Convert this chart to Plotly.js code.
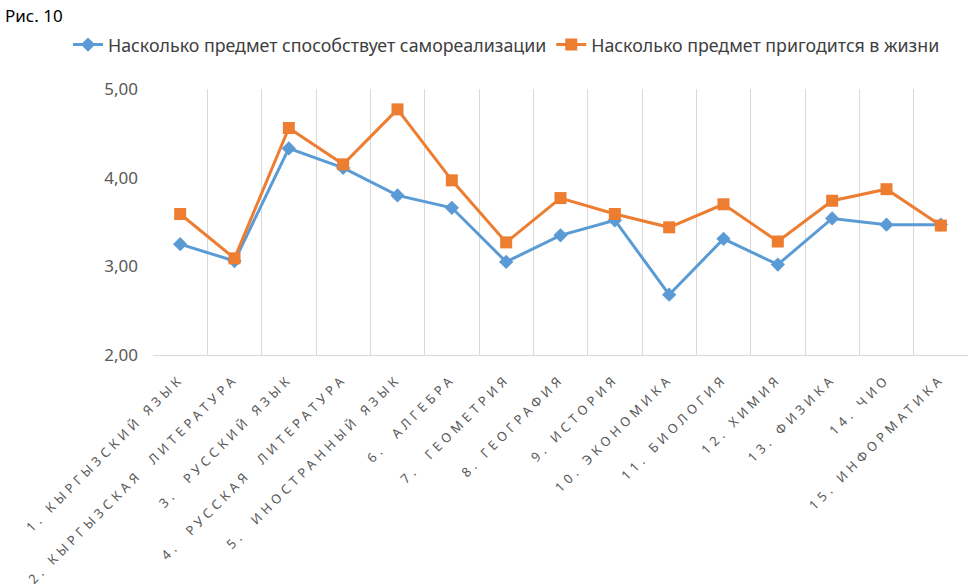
<!DOCTYPE html>
<html>
<head>
<meta charset="utf-8">
<script src="https://cdn.plot.ly/plotly-3.0.1.min.js"></script>
<style>
html,body{margin:0;padding:0;background:#fff;}
#chart{width:968px;height:588px;}
#chart .xtick text{letter-spacing:4.2px !important;}
</style>
</head>
<body>
<div id="chart"></div>
<script>
const categories = [
  "1. КЫРГЫЗСКИЙ ЯЗЫК",
  "2. КЫРГЫЗСКАЯ  ЛИТЕРАТУРА",
  "3.  РУССКИЙ ЯЗЫК",
  "4.  РУССКАЯ  ЛИТЕРАТУРА",
  "5.  ИНОСТРАННЫЙ ЯЗЫК",
  "6.  АЛГЕБРА",
  "7.  ГЕОМЕТРИЯ",
  "8. ГЕОГРАФИЯ",
  "9. ИСТОРИЯ",
  "10. ЭКОНОМИКА",
  "11. БИОЛОГИЯ",
  "12. ХИМИЯ",
  "13. ФИЗИКА",
  "14. ЧИО",
  "15. ИНФОРМАТИКА"
];
const seriesNames = [
  "Насколько предмет способствует самореализации",
  "Насколько предмет пригодится в жизни"
];
const selfRealization = [3.25, 3.06, 4.33, 4.11, 3.80, 3.66, 3.05, 3.35, 3.52, 2.68, 3.31, 3.02, 3.54, 3.47, 3.47];
const usefulInLife   = [3.59, 3.09, 4.56, 4.15, 4.77, 3.97, 3.27, 3.77, 3.59, 3.44, 3.70, 3.28, 3.74, 3.87, 3.46];
const yTicks = [2, 3, 4, 5];
const yTickLabels = ["2,00", "3,00", "4,00", "5,00"];

const tickText = categories.map(c => c.replace(/  /g, ' \u00a0'));

const traces = [
  {
    x: categories, y: selfRealization, name: seriesNames[0], type: 'scatter', mode: 'lines+markers',
    line: {color: '#5B9BD5', width: 3},
    marker: {symbol: 'diamond', size: 11, color: '#5B9BD5'}
  },
  {
    x: categories, y: usefulInLife, name: seriesNames[1], type: 'scatter', mode: 'lines+markers',
    line: {color: '#ED7D31', width: 3},
    marker: {symbol: 'square', size: 12, color: '#ED7D31'}
  }
];

const layout = {
  width: 968, height: 588,
  margin: {l: 153, r: 0, t: 89, b: 233},
  paper_bgcolor: '#fff', plot_bgcolor: '#fff',
  font: {family: 'Noto Sans, sans-serif', color: '#595959'},
  showlegend: true,
  legend: {
    orientation: 'h', xref: 'paper', yref: 'paper',
    x: (68 - 153) / 815, xanchor: 'left', y: 1 + 44 / 266, yanchor: 'middle',
    font: {family: 'Noto Sans, sans-serif', size: 17.8, color: '#404040'},
    itemwidth: 30, tracegroupgap: 0
  },
  xaxis: {
    type: 'category',
    tickmode: 'array', tickvals: categories, ticktext: tickText,
    tickson: 'boundaries',
    showgrid: true, gridcolor: '#d9d9d9', gridwidth: 1,
    showline: true, linecolor: '#d9d9d9', linewidth: 1,
    ticks: '', tickangle: -45, ticklabelstandoff: 10,
    tickfont: {family: 'Noto Sans, sans-serif', size: 13, color: '#595959'},
    range: [-0.5, 14.5], fixedrange: true, automargin: false
  },
  yaxis: {
    range: [2, 5], tickmode: 'array', tickvals: yTicks, ticktext: yTickLabels,
    showgrid: false, zeroline: false, showline: false, ticks: '',
    tickfont: {family: 'Noto Sans, sans-serif', size: 17, color: '#595959'},
    ticklabelstandoff: 14, automargin: false
  },
  annotations: [
    {text: 'Рис. 10', xref: 'paper', yref: 'paper', x: -150/815, y: 1 + (89 - 2)/266, xanchor: 'left', yanchor: 'top',
     showarrow: false, font: {family: 'Noto Sans, sans-serif', size: 17, color: '#000'}}
  ]
};

Plotly.newPlot('chart', traces, layout, {displayModeBar: false, staticPlot: true});
</script>
</body>
</html>
